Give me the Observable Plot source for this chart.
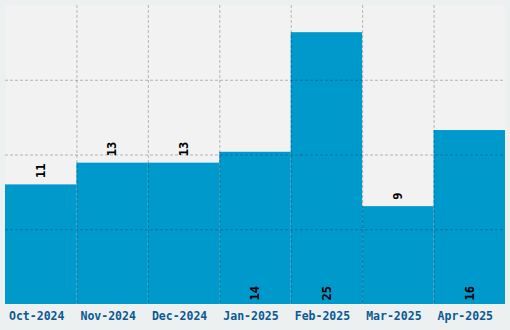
<!DOCTYPE html>
<html>
<head>
<meta charset="utf-8">
<script src="https://cdn.jsdelivr.net/npm/d3@7"></script>
<script src="https://cdn.jsdelivr.net/npm/@observablehq/plot@0.6"></script>
<style>
  html, body { margin: 0; padding: 0; background: #edf0f1; }
  #chart svg { display: block; }
</style>
</head>
<body>
<div id="chart"></div>
<script>
const months = ["Oct-2024", "Nov-2024", "Dec-2024", "Jan-2025", "Feb-2025", "Mar-2025", "Apr-2025"];
const counts = [11, 13, 13, 14, 25, 9, 16];

const data = months.map((m, i) => ({month: m, count: counts[i]}));
const W = 510, H = 330;
const mL = 5, mR = 5, mT = 5, mB = 26;
const yMax = d3.max(counts) * 1.1;
const step = (W - mL - mR) / months.length;
const yGrid = d3.range(1, 4).map(i => i * yMax / 4);
const font = "'DejaVu Sans Mono', monospace";

const chart = Plot.plot({
  width: W, height: H,
  marginLeft: mL, marginRight: mR, marginTop: mT, marginBottom: mB,
  style: {background: "#edf0f1", fontFamily: font},
  x: {domain: months, padding: 0, round: false, label: null},
  y: {domain: [0, yMax], axis: null},
  marks: [
    Plot.frame({fill: "#f2f2f2", stroke: null}),
    Plot.barY(data, {x: "month", y: "count", fill: "#0099cc", inset: 0}),
    Plot.ruleY(yGrid, {stroke: "black", strokeOpacity: 0.25, strokeDasharray: "3,2"}),
    Plot.ruleX(months.slice(1), {x: d => d, dx: -step / 2, stroke: "black", strokeOpacity: 0.25, strokeDasharray: "3,2"}),
    Plot.text(data.filter(d => d.count < 14), {
      x: "month", y: "count", text: d => String(d.count),
      rotate: -90, textAnchor: "start", dy: -7,
      fill: "black", fontSize: 12, fontWeight: "bold", fontFamily: font
    }),
    Plot.text(data.filter(d => d.count >= 14), {
      x: "month", y: 0, text: d => String(d.count),
      rotate: -90, textAnchor: "start", dy: -4,
      fill: "black", fontSize: 12, fontWeight: "bold", fontFamily: font
    }),
    Plot.axisX({tickSize: 0, tickPadding: 7, dx: -4.5, fontSize: 11.5, fontWeight: "bold", fill: "#0a5a96", label: null, fontFamily: font})
  ]
});
document.getElementById("chart").appendChild(chart);
</script>
</body>
</html>
